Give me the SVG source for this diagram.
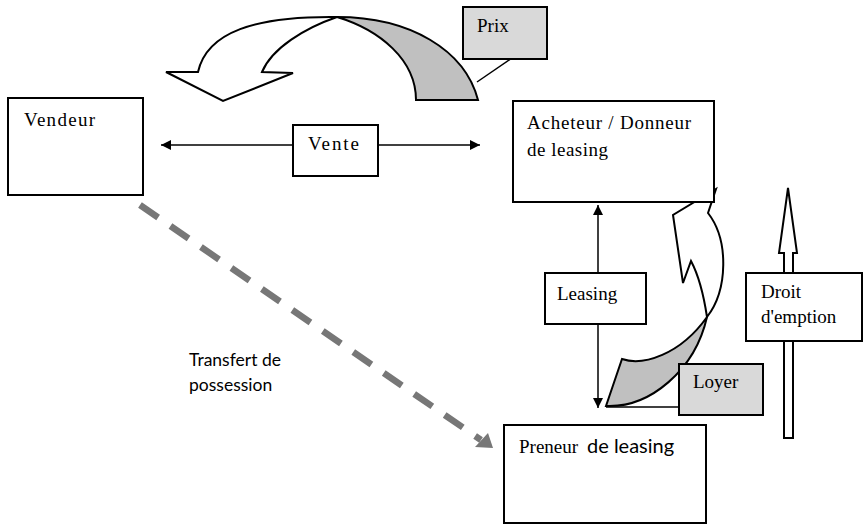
<svg xmlns="http://www.w3.org/2000/svg" width="863" height="526" viewBox="0 0 863 526">
<defs>
<style>
.box{fill:#fff;stroke:#000;stroke-width:2}
.gbox{fill:#d9d9d9;stroke:#000;stroke-width:2}
.t{font-family:"Liberation Serif","Times New Roman",serif;font-size:19px;fill:#000}
.s{font-family:Lato,"Open Sans",sans-serif;font-size:17.5px;fill:#000}
.ln{stroke:#000;stroke-width:1.5;fill:none}
.shape{stroke:#000;stroke-width:2;stroke-linejoin:miter}
</style>
<marker id="ah" viewBox="0 0 10 10" refX="10" refY="5" markerWidth="10" markerHeight="10" markerUnits="userSpaceOnUse" orient="auto-start-reverse">
<path d="M0,0 L10,5 L0,10 Z" fill="#000"/>
</marker>
</defs>
<rect width="863" height="526" fill="#fff"/>

<g id="connectors">
<line class="ln" x1="161" y1="145" x2="480" y2="145" marker-start="url(#ah)" marker-end="url(#ah)"/>
<line class="ln" x1="598" y1="205" x2="598" y2="408" marker-start="url(#ah)" marker-end="url(#ah)"/>
<line x1="140" y1="205" x2="481" y2="440" stroke="#777" stroke-width="6.5" stroke-dasharray="22 15"/>
<polygon points="493,448 475,447 488,433" fill="#777"/>
<line class="ln" x1="512" y1="58" x2="477" y2="82"/>
<line class="ln" x1="606" y1="407" x2="680" y2="407"/>
</g>

<g id="prix-arrow">
<path class="shape" fill="#fff" d="M198,72 C207,32 255,16 337,17 C305,28 272,48 262,72 L293,73 L223,101 L166,72 Z"/>
<path class="shape" fill="#c0c0c0" d="M337,17 C410,17 465,50 478,100 L416,100 C416,60 380,30 337,17 Z"/>
</g>

<g id="loyer-arrow">
<path class="shape" fill="#fff" d="M707,317 C704,297 700,278 691,261 L683,283 L673,215 L716,189 L708,213 C729,240 728,290 707,317 Z"/>
<path class="shape" fill="#c0c0c0" d="M606,406 L622,359 C643,366 680,355 707,317 C695,370 650,408 606,406 Z"/>
</g>

<g id="droit-arrow">
<path class="shape" fill="#fff" stroke-width="1.5" d="M784,438 L784,253 L779,253 L788,188 L797,253 L793,253 L793,438 Z"/>
</g>

<g id="vendeur">
<rect class="box" x="8" y="98" width="135" height="97"/>
<text class="t" x="24" y="126" textLength="71" lengthAdjust="spacing">Vendeur</text>
</g>

<g id="vente">
<rect class="box" x="293" y="125" width="85" height="51"/>
<text class="t" x="308" y="150" textLength="51" lengthAdjust="spacing">Vente</text>
</g>

<g id="acheteur">
<rect class="box" x="513" y="101" width="201" height="101"/>
<text class="t" x="527" y="129" textLength="164" lengthAdjust="spacing">Acheteur / Donneur</text>
<text class="t" x="527" y="156" textLength="81" lengthAdjust="spacing">de leasing</text>
</g>

<g id="leasing">
<rect class="box" x="545" y="273" width="101" height="51"/>
<text class="t" x="557" y="300">Leasing</text>
</g>

<g id="droit">
<rect class="box" x="746" y="273" width="116" height="68"/>
<text class="t" x="761" y="298">Droit</text>
<text class="t" x="761" y="323">d'emption</text>
</g>

<g id="prix">
<rect class="gbox" x="463" y="7" width="84" height="52"/>
<text class="t" x="477" y="32">Prix</text>
</g>

<g id="loyer">
<rect class="gbox" x="679" y="364" width="84" height="51"/>
<text class="t" x="693" y="388">Loyer</text>
</g>

<g id="preneur">
<rect class="box" x="504" y="425" width="202" height="98"/>
<text class="t" x="519" y="453">Preneur<tspan class="s" x="587" style="font-size:20px">de leasing</tspan></text>
</g>

<g id="transfert">
<text class="s" x="189" y="366">Transfert de</text>
<text class="s" x="189" y="391">possession</text>
</g>
</svg>
